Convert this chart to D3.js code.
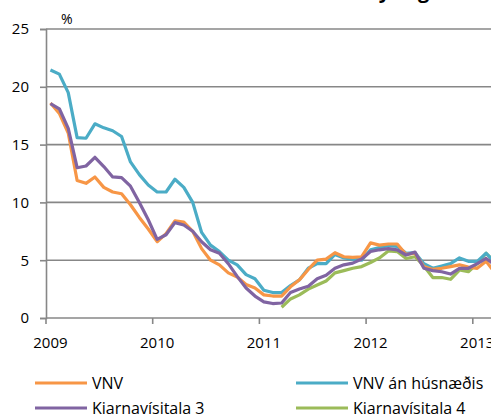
<!DOCTYPE html>
<html>
<head>
<meta charset="utf-8">
<script src="https://cdn.jsdelivr.net/npm/d3@7"></script>
<style>
  html, body { margin: 0; padding: 0; background: #fff; overflow: hidden; }
  svg { display: block; }
  text { font-family: "Open Sans", "Liberation Sans", sans-serif; fill: #000; }
</style>
</head>
<body>
<svg id="chart" width="491" height="414"></svg>
<script>
// ---- data (monthly, Jan 2009 - Mar 2013) ----
const startYear = 2009;
const yearLabels = ["2009", "2010", "2011", "2012", "2013"];
const yTicks = [0, 5, 10, 15, 20, 25];
const seriesNames = ["VNV", "VNV án húsnæðis", "Kjarnavísitala 3", "Kjarnavísitala 4"];

const vnv = [18.6, 17.7, 16.0, 11.9, 11.65, 12.2, 11.3, 10.9, 10.75, 9.8, 8.7, 7.7,
             6.6, 7.3, 8.4, 8.3, 7.5, 6.0, 5.0, 4.6, 3.9, 3.55, 2.9, 2.6,
             2.0, 1.9, 1.9, 2.7, 3.3, 4.2, 5.0, 5.1, 5.65, 5.3, 5.25, 5.3,
             6.5, 6.3, 6.4, 6.4, 5.5, 5.6, 4.45, 4.2, 4.3, 4.45, 4.6, 4.4,
             4.3, 4.9, 3.9];
const vnvAnHusn = [21.45, 21.1, 19.5, 15.6, 15.55, 16.8, 16.45, 16.2, 15.7, 13.5, 12.4, 11.5,
                   10.9, 10.9, 12.0, 11.3, 10.0, 7.4, 6.3, 5.75, 5.0, 4.6, 3.75, 3.4,
                   2.4, 2.2, 2.2, 2.8, 3.3, 4.3, 4.7, 4.7, 5.5, 5.2, 5.1, 5.0,
                   5.9, 6.1, 6.25, 6.2, 5.6, 5.65, 4.7, 4.3, 4.5, 4.7, 5.2, 4.9,
                   4.9, 5.6, 4.8];
const kjarna3 = [18.55, 18.1, 16.4, 13.0, 13.15, 13.9, 13.1, 12.2, 12.15, 11.4, 10.0, 8.5,
                 6.8, 7.2, 8.25, 8.05, 7.5, 6.6, 5.9, 5.6, 4.7, 3.6, 2.6, 1.9,
                 1.4, 1.25, 1.3, 2.2, 2.5, 2.75, 3.4, 3.7, 4.3, 4.6, 4.75, 5.1,
                 5.75, 5.9, 6.0, 5.9, 5.45, 5.7, 4.3, 4.1, 4.0, 3.8, 4.3, 4.3,
                 4.7, 5.15, 4.6];
const kjarna4 = [null, null, null, null, null, null, null, null, null, null, null, null,
                 null, null, null, null, null, null, null, null, null, null, null, null,
                 null, null, 0.93, 1.65, 2.0, 2.5, 2.85, 3.2, 3.9, 4.1, 4.3, 4.45,
                 4.8, 5.2, 5.8, 5.75, 5.15, 5.3, 4.5, 3.5, 3.5, 3.35, 4.15, 4.0,
                 4.7, 5.6, 4.8];
const seriesColors = ["#F79646", "#4BACC6", "#8064A2", "#9BBB59"];

// ---- chart ----
const svg = d3.select("#chart");
const x = d3.scaleLinear().domain([0, 12]).range([46, 152.7]);   // months since Jan 2009 (boundaries)
const y = d3.scaleLinear().domain([0, 25]).range([318, 29]);
const gridColor = "#878787";

// title (clipped at top in reference)
svg.append("text")
  .attr("x", 330).attr("y", -2)
  .attr("text-anchor", "middle")
  .style("font-weight", "bold").style("font-size", "20px")
  .text("12 mánaða breyting");

// horizontal grid lines
svg.append("g").selectAll("line").data(yTicks.filter(d => d > 0)).join("line")
  .attr("x1", x(0)).attr("x2", 491)
  .attr("y1", d => y(d)).attr("y2", d => y(d))
  .attr("stroke", gridColor).attr("stroke-width", 1.6);

// y axis
const yAxis = d3.axisLeft(y).tickValues(yTicks).tickSize(6).tickPadding(11).tickFormat(d3.format("d"));
const gy = svg.append("g").attr("transform", `translate(${x(0)},0)`).call(yAxis);
gy.select(".domain").attr("stroke", gridColor).attr("stroke-width", 1.6);
gy.selectAll(".tick line").attr("stroke", gridColor).attr("stroke-width", 1.6);
gy.selectAll(".tick text").style("font-size", "15px").attr("fill", "#000");

// x axis baseline + ticks at year boundaries
const yearTickPos = yearLabels.map((d, i) => i * 12);
svg.append("line").attr("x1", x(0)).attr("x2", 491).attr("y1", y(0)).attr("y2", y(0))
  .attr("stroke", gridColor).attr("stroke-width", 1.6);
svg.append("g").selectAll("line").data(yearTickPos).join("line")
  .attr("x1", d => x(d)).attr("x2", d => x(d))
  .attr("y1", y(0)).attr("y2", y(0) + 6)
  .attr("stroke", gridColor).attr("stroke-width", 1.6);
svg.append("g").selectAll("text").data(yearLabels).join("text")
  .attr("x", (d, i) => x(i * 12 + 0.5))
  .attr("y", 348)
  .attr("text-anchor", "middle")
  .style("font-size", "15px")
  .text(d => d);

// "%" label
svg.append("text").attr("x", 61).attr("y", 24).style("font-size", "14px").text("%");

// lines
const allSeries = [vnv, vnvAnHusn, kjarna3, kjarna4];
const line = d3.line()
  .defined(d => d != null)
  .x((d, i) => x(i + 0.5))
  .y(d => y(d));
const drawOrder = [3, 1, 0, 2];
drawOrder.forEach(k => {
  svg.append("path")
    .datum(allSeries[k])
    .attr("d", line)
    .attr("fill", "none")
    .attr("stroke", seriesColors[k])
    .attr("stroke-width", 3.2)
    .attr("stroke-linejoin", "round");
});

// legend
const legendPos = [[35, 383], [296, 383], [35, 408], [296, 408]];
seriesNames.forEach((name, k) => {
  const [lx, ly] = legendPos[k];
  svg.append("line").attr("x1", lx).attr("x2", lx + 52).attr("y1", ly).attr("y2", ly)
    .attr("stroke", seriesColors[k]).attr("stroke-width", 3.2);
  svg.append("text").attr("x", lx + 57).attr("y", ly + 6)
    .style("font-size", "16px").text(name);
});
</script>
</body>
</html>
